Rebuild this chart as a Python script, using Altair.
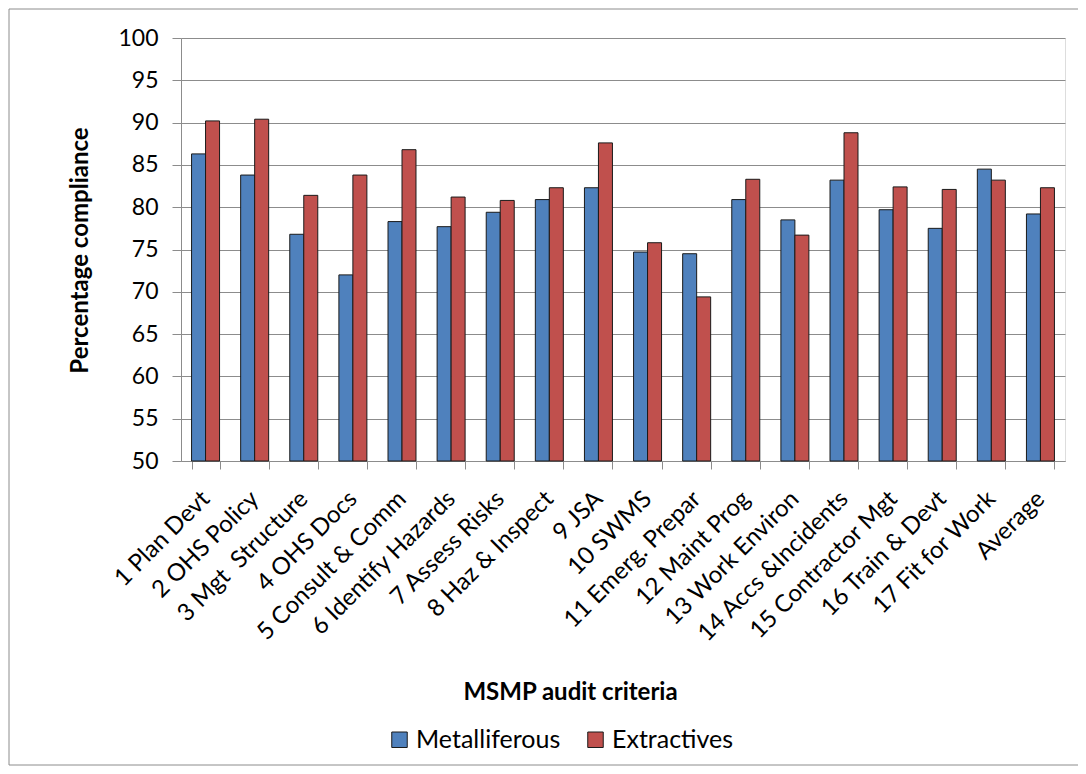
import altair as alt
import pandas as pd

categories = ["1 Plan Devt", "2 OHS Policy", "3 Mgt\u00a0 Structure", "4 OHS Docs",
              "5 Consult & Comm", "6 Identify Hazards", "7 Assess Risks",
              "8 Haz & Inspect", "9 JSA", "10 SWMS", "11 Emerg. Prepar",
              "12 Maint Prog", "13 Work Environ", "14 Accs &Incidents",
              "15 Contractor Mgt", "16 Train & Devt", "17 Fit for Work", "Average"]
metalliferous = [86.3, 83.8, 76.8, 72.0, 78.3, 77.7, 79.4, 80.9, 82.3, 74.7,
                 74.5, 80.9, 78.5, 83.2, 79.7, 77.5, 84.5, 79.2]
extractives = [90.2, 90.4, 81.4, 83.8, 86.8, 81.2, 80.8, 82.3, 87.6, 75.8,
               69.4, 83.3, 76.7, 88.8, 82.4, 82.1, 83.2, 82.3]
series = ["Metalliferous", "Extractives"]
colors = ["#4F81BD", "#C0504D"]
y_ticks = [50, 55, 60, 65, 70, 75, 80, 85, 90, 95, 100]
y_base = 50

rows = []
for i, c in enumerate(categories):
    rows.append({"criteria": c, "series": series[0], "value": metalliferous[i]})
    rows.append({"criteria": c, "series": series[1], "value": extractives[i]})
df = pd.DataFrame(rows)

FONT = "Lato"

bars = alt.Chart(df).mark_bar(stroke="#1a1a1a", strokeWidth=1).encode(
    x=alt.X("criteria:N", sort=categories,
            scale=alt.Scale(paddingInner=0.43, paddingOuter=0.215),
            axis=alt.Axis(title="MSMP audit criteria", labelAngle=-45, labelAlign="right",
                          labelBaseline="middle", labelPadding=26, tickBand="extent",
                          tickSize=8, tickColor="#8c8c8c", domainColor="#8c8c8c",
                          labelFont=FONT, labelFontSize=24, labelColor="#000",
                          titleFont=FONT, titleFontSize=24, titleFontWeight="bold",
                          titleColor="#000", titleX=389, titleY=231, titleAlign="center",
                          titleBaseline="middle", grid=False, labelLimit=400)),
    xOffset=alt.XOffset("series:N", sort=series),
    y=alt.Y("value:Q", scale=alt.Scale(domain=[50, 100], nice=False, zero=False),
            axis=alt.Axis(title="Percentage compliance", values=y_ticks, grid=True,
                          gridColor="#8c8c8c", tickColor="#8c8c8c", domainColor="#8c8c8c",
                          tickSize=9, labelPadding=14, labelFont=FONT, labelFontSize=23,
                          labelColor="#000", titleFont=FONT, titleFontSize=24,
                          titleFontWeight="bold", titleColor="#000",
                          titleX=-101, titleY=212, titleAlign="center",
                          titleBaseline="middle", titleAngle=-90)),
    y2=alt.datum(y_base),
    color=alt.Color("series:N", sort=series,
                    scale=alt.Scale(domain=series, range=colors),
                    legend=alt.Legend(title=None, orient="none", direction="horizontal",
                                      legendX=206, legendY=689, symbolType="square",
                                      symbolSize=240, symbolStrokeColor="#1a1a1a",
                                      symbolStrokeWidth=1, labelFont=FONT,
                                      labelFontSize=25, labelColor="#000",
                                      columnPadding=22, labelOffset=4)),
)

frame_df = pd.DataFrame({"k": [0]})
frame = alt.Chart(frame_df).mark_rect(fill=None, stroke="#8c8c8c", strokeWidth=1).encode(
    x=alt.value(-172), x2=alt.value(901), y=alt.value(-29), y2=alt.value(727)
)

chart = alt.layer(bars, frame).properties(
    width=884, height=423,
    autosize=alt.AutoSizeParams(type="none"),
    padding={"left": 173, "top": 30, "right": 13, "bottom": 305},
).configure_view(stroke=None).configure(background="white")

chart.save("out.html", embed_options={"renderer": "svg", "actions": False})
